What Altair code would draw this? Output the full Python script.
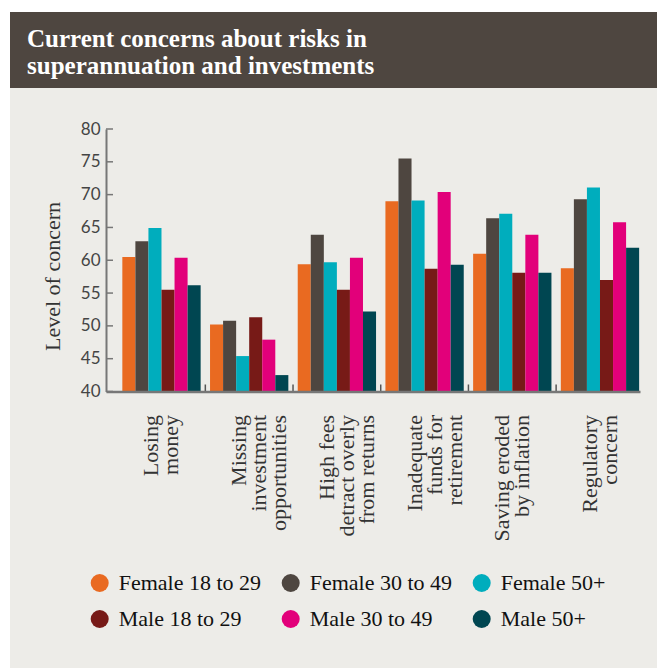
import altair as alt
import pandas as pd

categories = [
    "Losing\nmoney",
    "Missing\ninvestment\nopportunities",
    "High fees\ndetract overly\nfrom returns",
    "Inadequate\nfunds for\nretirement",
    "Saving eroded\nby inflation",
    "Regulatory\nconcern",
]
groups = ["Female 18 to 29", "Female 30 to 49", "Female 50+",
          "Male 18 to 29", "Male 30 to 49", "Male 50+"]
colors = ["#E96A21", "#4E4640", "#00ADBD", "#771A17", "#E2007A", "#004651"]

female_18_29 = [60.5, 50.2, 59.4, 69.0, 61.0, 58.8]
female_30_49 = [62.9, 50.8, 63.9, 75.5, 66.4, 69.3]
female_50 = [64.9, 45.4, 59.7, 69.1, 67.1, 71.1]
male_18_29 = [55.5, 51.3, 55.5, 58.7, 58.1, 57.0]
male_30_49 = [60.4, 47.9, 60.4, 70.4, 63.9, 65.8]
male_50 = [56.2, 42.5, 52.2, 59.3, 58.1, 61.9]

y_ticks = [40, 45, 50, 55, 60, 65, 70, 75, 80]
title_text = "Current concerns about risks in\nsuperannuation and investments"

series = [female_18_29, female_30_49, female_50, male_18_29, male_30_49, male_50]
rows = []
for g, vals in zip(groups, series):
    for c, v in zip(categories, vals):
        rows.append({"category": c, "group": g, "value": v})
df = pd.DataFrame(rows)

# legend fills column by column: order entries so rows read Female / Male
legend_order = [groups[0], groups[3], groups[1], groups[4], groups[2], groups[5]]
legend_colors = [colors[groups.index(g)] for g in legend_order]

W = 534
H = 262.5
SERIF = "Liberation Serif"

one = pd.DataFrame({"k": [0]})

bg = alt.Chart(one).mark_rect(color="#EDECE8").encode(
    x=alt.value(-96), x2=alt.value(551), y=alt.value(-41), y2=alt.value(539)
)
header = alt.Chart(one).mark_rect(color="#4E4640").encode(
    x=alt.value(-96), x2=alt.value(551), y=alt.value(-117), y2=alt.value(-41)
)
title = alt.Chart(one).mark_text(
    align="left", baseline="alphabetic", font=SERIF, fontSize=25,
    fontWeight="bold", color="white", lineBreak="\n", lineHeight=27
).encode(x=alt.value(-79), y=alt.value(-82), text=alt.value(title_text))

xscale = alt.Scale(domain=categories, paddingInner=0.107, paddingOuter=0.098, align=0.95)
yscale = alt.Scale(domain=[40, 80], zero=False, clamp=True, nice=False)

x_axis = alt.Axis(title=None, ticks=False, labelAngle=270, labelAlign="right",
                  labelBaseline="middle", labelPadding=23, labelOffset=-10,
                  labelFont=SERIF, labelFontSize=22, labelLineHeight=20,
                  labelColor="#333", labelExpr="split(datum.label, '\\n')",
                  labelOverlap=False, labelLimit=300, domainColor="#777",
                  domainWidth=2.5, zindex=1)
y_axis = alt.Axis(values=y_ticks, tickCount=9, ticks=False, grid=False, domainColor="#777",
                  domainWidth=2, labelFont="Lato", labelFontSize=17,
                  labelColor="#444", labelPadding=6, labelOverlap=False,
                  labelFlush=False, title="Level of concern",
                  titleFont=SERIF, titleFontSize=22, titleFontWeight="normal",
                  titleColor="#333", titleX=-54, titleY=147, titleAngle=270,
                  titleBaseline="middle", titleAlign="center", zindex=1)

bars = alt.Chart(df).mark_bar().encode(
    x=alt.X("category:N", scale=xscale, sort=categories, axis=x_axis),
    xOffset=alt.XOffset("group:N", sort=groups),
    y=alt.Y("value:Q", scale=yscale, axis=y_axis),
    color=alt.Color("group:N",
                    scale=alt.Scale(domain=legend_order, range=legend_colors),
                    legend=alt.Legend(title=None, orient="none", legendX=-17.3, legendY=443,
                                      columns=3, symbolType="circle", symbolSize=324,
                                      symbolStrokeWidth=0, labelFont=SERIF, labelFontSize=22,
                                      labelColor="#111", labelOffset=8, columnPadding=18,
                                      rowPadding=14, padding=0, labelLimit=300)),
)

yticks = alt.Chart(pd.DataFrame({"value": y_ticks})).mark_rule(
    color="#777", strokeWidth=1.5
).encode(
    y=alt.Y("value:Q", scale=yscale, axis=y_axis),
    x=alt.value(0), x2=alt.value(7),
)

xticks = alt.Chart(pd.DataFrame({"category": categories[1:]})).mark_rule(
    color="#555", strokeWidth=1.5, xOffset=-4.7
).encode(
    x=alt.X("category:N", scale=xscale, sort=categories, bandPosition=0, axis=x_axis),
    y=alt.value(H - 7), y2=alt.value(H),
)

chart = alt.layer(bg, header, title, bars, yticks, xticks).properties(
    width=W, height=H,
    padding={"left": 10, "top": 12, "right": 0, "bottom": 0},
    background="white",
).configure_view(stroke=None)

chart.save("out.html", embed_options={"renderer": "svg", "actions": False})
